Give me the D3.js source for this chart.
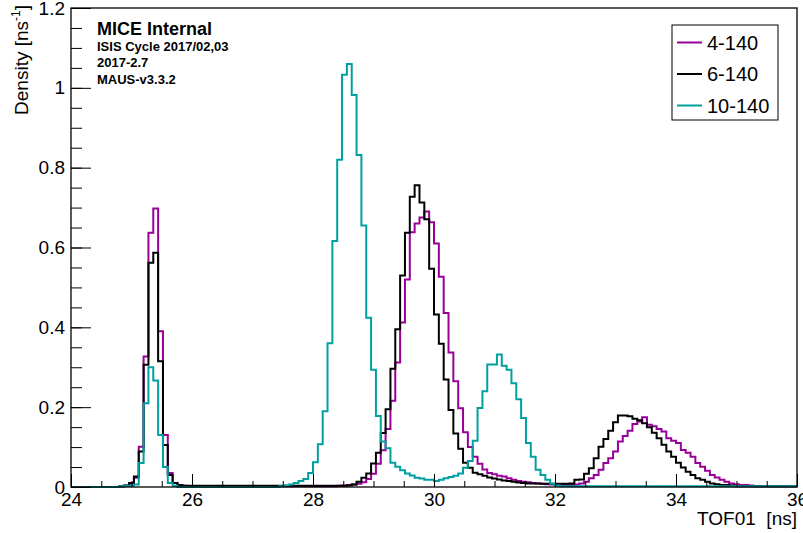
<!DOCTYPE html>
<html>
<head>
<meta charset="utf-8">
<script src="https://cdn.jsdelivr.net/npm/d3@7"></script>
<style>
  body { margin: 0; background: #fff; }
  text { font-family: "Liberation Sans", Arial, sans-serif; }
</style>
</head>
<body>
<div id="chart"></div>
<script>
(function() {

    // Histogram binning: 150 bins of 0.08 ns between 24 and 36 ns
    var binLow = 24;
    var binWidth = 0.08;
    var nBins = 150;

    // Density per bin [ns^-1]
    var tof4 = [
        0,0,0,0,0,0,0,0,0,0,
        0.002,0.004,0.008,0.023,0.101,0.327,0.637,0.698,0.39,0.13,
        0.035,0.01,0.005,0.003,0.002,0.002,0.002,0.002,0.002,0.002,
        0.002,0.002,0.002,0.002,0.002,0.002,0.002,0.002,0.002,0.002,
        0.002,0.002,0.002,0.002,0.002,0.002,0.002,0.002,0.002,0.002,
        0.002,0.002,0.002,0.002,0.002,0.003,0.004,0.005,0.006,0.008,
        0.012,0.02,0.033,0.058,0.092,0.145,0.216,0.312,0.412,0.52,
        0.638,0.66,0.675,0.69,0.663,0.61,0.527,0.436,0.337,0.265,
        0.197,0.137,0.1,0.076,0.058,0.044,0.035,0.032,0.028,0.026,
        0.022,0.018,0.015,0.013,0.012,0.01,0.009,0.008,0.007,0.006,
        0.006,0.005,0.005,0.005,0.006,0.009,0.013,0.022,0.03,0.043,
        0.06,0.072,0.089,0.114,0.128,0.141,0.158,0.164,0.175,0.156,
        0.152,0.145,0.139,0.122,0.116,0.11,0.093,0.086,0.076,0.06,
        0.051,0.041,0.03,0.024,0.018,0.013,0.009,0.007,0.005,0.005,
        0.004,0.002,0.002,0.002,0.002,0.002,0.002,0.002,0.002,0.002
    ];

    var tof6 = [
        0,0,0,0,0,0,0,0,0,0,
        0.002,0.004,0.01,0.026,0.089,0.306,0.562,0.587,0.315,0.105,
        0.03,0.01,0.005,0.003,0.003,0.003,0.003,0.003,0.003,0.003,
        0.003,0.003,0.003,0.003,0.003,0.003,0.003,0.003,0.003,0.003,
        0.003,0.003,0.003,0.003,0.003,0.003,0.003,0.003,0.003,0.003,
        0.003,0.003,0.003,0.003,0.003,0.003,0.003,0.004,0.006,0.013,
        0.023,0.034,0.059,0.086,0.135,0.195,0.296,0.395,0.53,0.637,
        0.727,0.756,0.713,0.671,0.547,0.432,0.359,0.269,0.193,0.134,
        0.096,0.061,0.048,0.036,0.032,0.028,0.024,0.021,0.019,0.016,
        0.015,0.013,0.011,0.01,0.009,0.009,0.009,0.008,0.008,0.008,
        0.008,0.008,0.008,0.009,0.018,0.019,0.033,0.047,0.072,0.101,
        0.12,0.141,0.162,0.179,0.179,0.177,0.171,0.167,0.16,0.15,
        0.136,0.122,0.106,0.089,0.076,0.061,0.049,0.038,0.03,0.022,
        0.018,0.013,0.009,0.007,0.005,0.005,0.004,0.002,0.002,0.002,
        0.002,0.002,0.002,0.002,0.002,0.002,0.002,0.002,0.002,0.002
    ];

    var tof10 = [
        0,0,0,0,0,0,0,0,0,0,
        0.002,0.003,0.003,0.006,0.06,0.21,0.3,0.267,0.13,0.05,
        0.01,0.003,0,0,0,0,0,0,0,0,
        0,0,0,0,0,0,0,0,0,0,
        0,0,0,0.002,0.004,0.006,0.01,0.015,0.02,0.035,
        0.062,0.107,0.19,0.36,0.616,0.82,1.033,1.06,0.982,0.832,
        0.655,0.424,0.294,0.178,0.114,0.097,0.061,0.051,0.042,0.034,
        0.029,0.023,0.021,0.018,0.018,0.015,0.018,0.022,0.025,0.028,
        0.034,0.048,0.065,0.116,0.198,0.24,0.307,0.307,0.332,0.304,
        0.294,0.26,0.22,0.173,0.11,0.076,0.043,0.03,0.018,0.008,
        0.004,0.002,0.002,0.002,0.002,0.002,0.002,0.002,0.002,0.002,
        0.002,0.002,0.002,0.002,0.002,0.002,0.002,0.002,0.002,0.002,
        0.002,0.002,0.002,0.002,0.002,0.002,0.002,0.002,0.002,0.002,
        0.002,0.002,0.002,0.002,0.002,0.002,0.002,0.002,0.002,0.002,
        0.002,0.002,0.002,0.002,0.002,0.002,0.002,0.002,0.002,0.002
    ];

    var seriesNames = ["4-140", "6-140", "10-140"];
    var seriesColors = ["#990099", "#000000", "#00a0a0"];
    var seriesData = [tof4, tof6, tof10];

    var xTicks = [24, 26, 28, 30, 32, 34, 36];
    var yTicks = [0, 0.2, 0.4, 0.6, 0.8, 1, 1.2];
    var infoLines = ["ISIS Cycle 2017/02,03", "2017-2.7", "MAUS-v3.3.2"];

    // Dimensions of the SVG container and the frame
    var width = 803;
    var height = 533;
    var left = 71, right = 797, top = 8, bottom = 487;

    var svg = d3.select("#chart")
        .append("svg")
        .attr("width", width)
        .attr("height", height);

    var x = d3.scaleLinear().domain([24, 36]).range([left, right]);
    var y = d3.scaleLinear().domain([0, 1.2]).range([bottom, top]);

    // Step line through the bin edges
    var line = d3.line()
        .x(d => x(d[0]))
        .y(d => y(d[1]))
        .curve(d3.curveStepAfter);

    seriesData.forEach(function(values, k) {
        var pts = values.map((v, i) => [binLow + i * binWidth, v]);
        pts.push([binLow + nBins * binWidth, values[values.length - 1]]);
        svg.append("path")
            .attr("d", line(pts))
            .attr("fill", "none")
            .attr("stroke", seriesColors[k])
            .attr("stroke-width", 2);
    });

    // Axes (ticks pointing inward like ROOT)
    var gx = svg.append("g").attr("transform", "translate(0," + bottom + ")");
    gx.call(d3.axisBottom(x).tickValues(d3.range(24, 36.001, 0.5)).tickSize(-6).tickFormat(""));
    gx.append("g").call(d3.axisBottom(x).tickValues(xTicks).tickSize(-13).tickPadding(6).tickFormat(d3.format("d")));

    var gy = svg.append("g").attr("transform", "translate(" + left + ",0)");
    gy.call(d3.axisLeft(y).tickValues(d3.range(0, 1.2001, 0.05)).tickSize(-11).tickFormat(""));
    gy.append("g").call(d3.axisLeft(y).tickValues(yTicks).tickSize(-20).tickPadding(6).tickFormat(d => String(d)));

    svg.selectAll(".domain").remove();
    svg.selectAll(".tick line").attr("stroke", "#000").attr("stroke-width", 1);
    svg.selectAll(".tick text")
        .attr("font-size", 19)
        .attr("fill", "#000")
        .style("font-family", "'Liberation Sans', Arial, sans-serif");

    // Frame
    svg.append("rect")
        .attr("x", left)
        .attr("y", top)
        .attr("width", right - left)
        .attr("height", bottom - top)
        .attr("fill", "none")
        .attr("stroke", "#000")
        .attr("stroke-width", 1.3);

    // Axis titles
    svg.append("text")
        .attr("x", right)
        .attr("y", 525)
        .attr("text-anchor", "end")
        .attr("font-size", 19)
        .style("white-space", "pre")
        .text("TOF01  [ns]");

    var yTitle = svg.append("text")
        .attr("transform", "translate(28,5) rotate(-90)")
        .attr("text-anchor", "end")
        .attr("font-size", 19);
    yTitle.append("tspan").text("Density [ns");
    yTitle.append("tspan").attr("font-size", 12).attr("dy", -8).text("-1");
    yTitle.append("tspan").attr("dy", 8).text("]");

    // Label block
    svg.append("text")
        .attr("x", 97)
        .attr("y", 35)
        .attr("font-size", 18)
        .attr("font-weight", "bold")
        .text("MICE Internal");

    svg.selectAll(".info")
        .data(infoLines)
        .enter().append("text")
        .attr("x", 97)
        .attr("y", (d, i) => 51 + i * 16.3)
        .attr("font-size", 13)
        .attr("font-weight", "bold")
        .text(d => d);

    // Legend
    var legend = svg.append("g");
    legend.append("rect")
        .attr("x", 672)
        .attr("y", 25)
        .attr("width", 106)
        .attr("height", 95)
        .attr("fill", "#fff")
        .attr("stroke", "#000")
        .attr("stroke-width", 1);

    seriesNames.forEach(function(name, k) {
        var cy = 42.5 + k * 31.5;
        legend.append("line")
            .attr("x1", 677).attr("x2", 702)
            .attr("y1", cy).attr("y2", cy)
            .attr("stroke", seriesColors[k])
            .attr("stroke-width", 2);
        legend.append("text")
            .attr("x", 707)
            .attr("y", cy + 7)
            .attr("font-size", 20)
            .text(name);
    });

})();
</script>
</body>
</html>
